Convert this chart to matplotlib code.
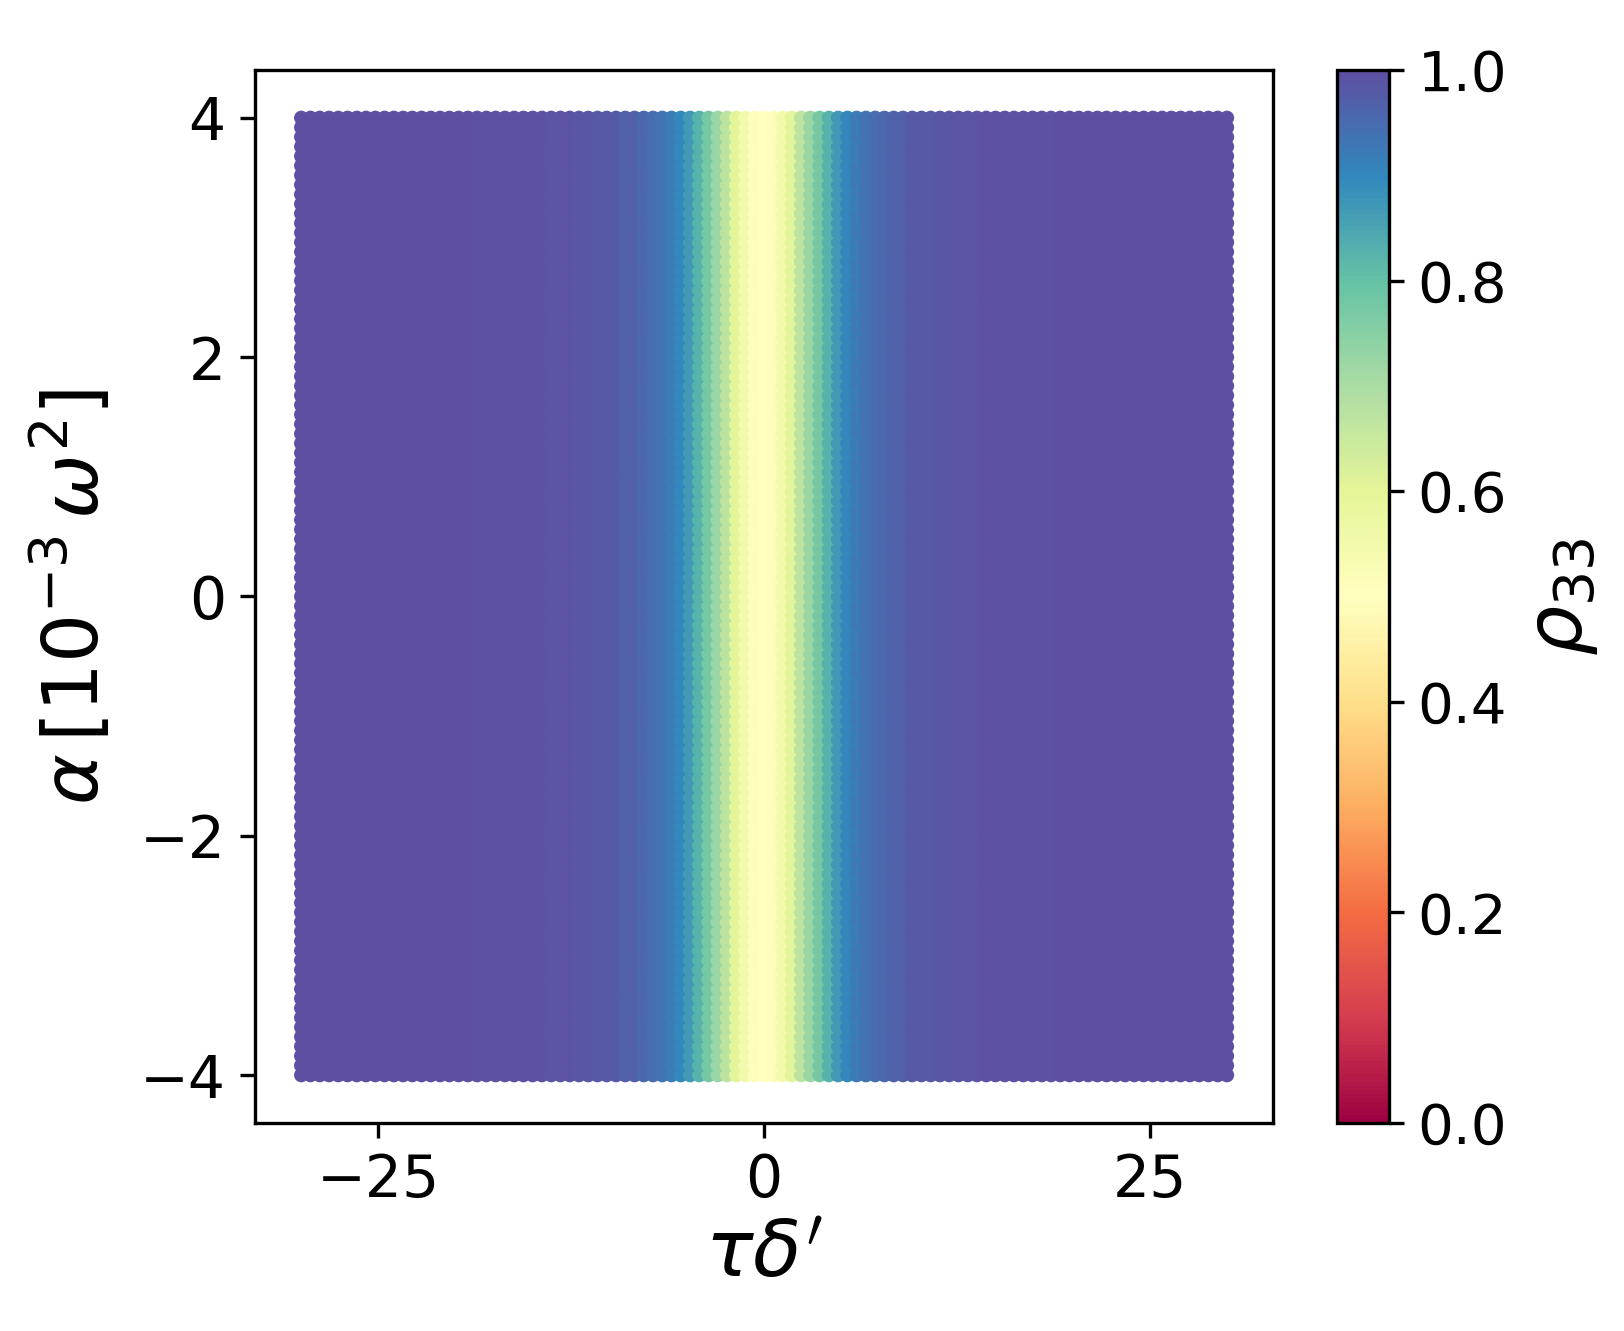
import numpy as np
import matplotlib.pyplot as plt


# grid of the scan
tau_delta = np.linspace(-30, 30, 101)
alpha = np.linspace(-4, 4, 101)

# rho33, for tau*delta' = 0, 0.6, ..., 30
rho_half = [
    0.500, 0.510, 0.545, 0.605, 0.670, 0.725, 0.775, 0.825, 0.870, 0.900,
    0.920, 0.935, 0.947, 0.957, 0.965, 0.972, 0.977, 0.981, 0.984, 0.986,
    0.988, 0.990, 0.991, 0.992, 0.993, 0.994,
    0.994, 0.995, 0.995, 0.996, 0.996, 0.996, 0.997, 0.997, 0.997, 0.997,
    0.998, 0.998, 0.998, 0.998, 0.998, 0.998, 0.998, 0.999, 0.999, 0.999,
    0.999, 0.999, 0.999, 0.999, 0.999,
]

# symmetric in tau*delta', no dependence on alpha
rho_profile = np.array(rho_half[::-1] + rho_half[1:])
X, Y = np.meshgrid(tau_delta, alpha)
rho33 = np.tile(rho_profile, (len(alpha), 1))

# plot
fig = plt.figure(figsize=(1624 / 300, 1331 / 300), dpi=300)
ax = fig.add_axes([0.157, 0.1563, 0.627, 0.7911])
cax = fig.add_axes([0.823, 0.1563, 0.032, 0.7911])

sc = ax.scatter(X.ravel(), Y.ravel(), c=rho33.ravel(), cmap="Spectral",
                vmin=0, vmax=1, s=12, linewidths=0)
ax.set_xticks([-25, 0, 25])
ax.set_yticks([-4, -2, 0, 2, 4])
ax.tick_params(labelsize=14)
ax.set_xlabel(r"$\tau\delta'$", fontsize=19, labelpad=2)
ax.set_ylabel(r"$\alpha\,[10^{-3}\,\omega^2]$", fontsize=18.5, labelpad=6)

cb = fig.colorbar(sc, cax=cax)
cb.set_ticks([0.0, 0.2, 0.4, 0.6, 0.8, 1.0])
cb.ax.tick_params(labelsize=13.5)
cb.set_label(r"$\rho_{33}$", fontsize=19)

fig.savefig("out.png", dpi=300)
